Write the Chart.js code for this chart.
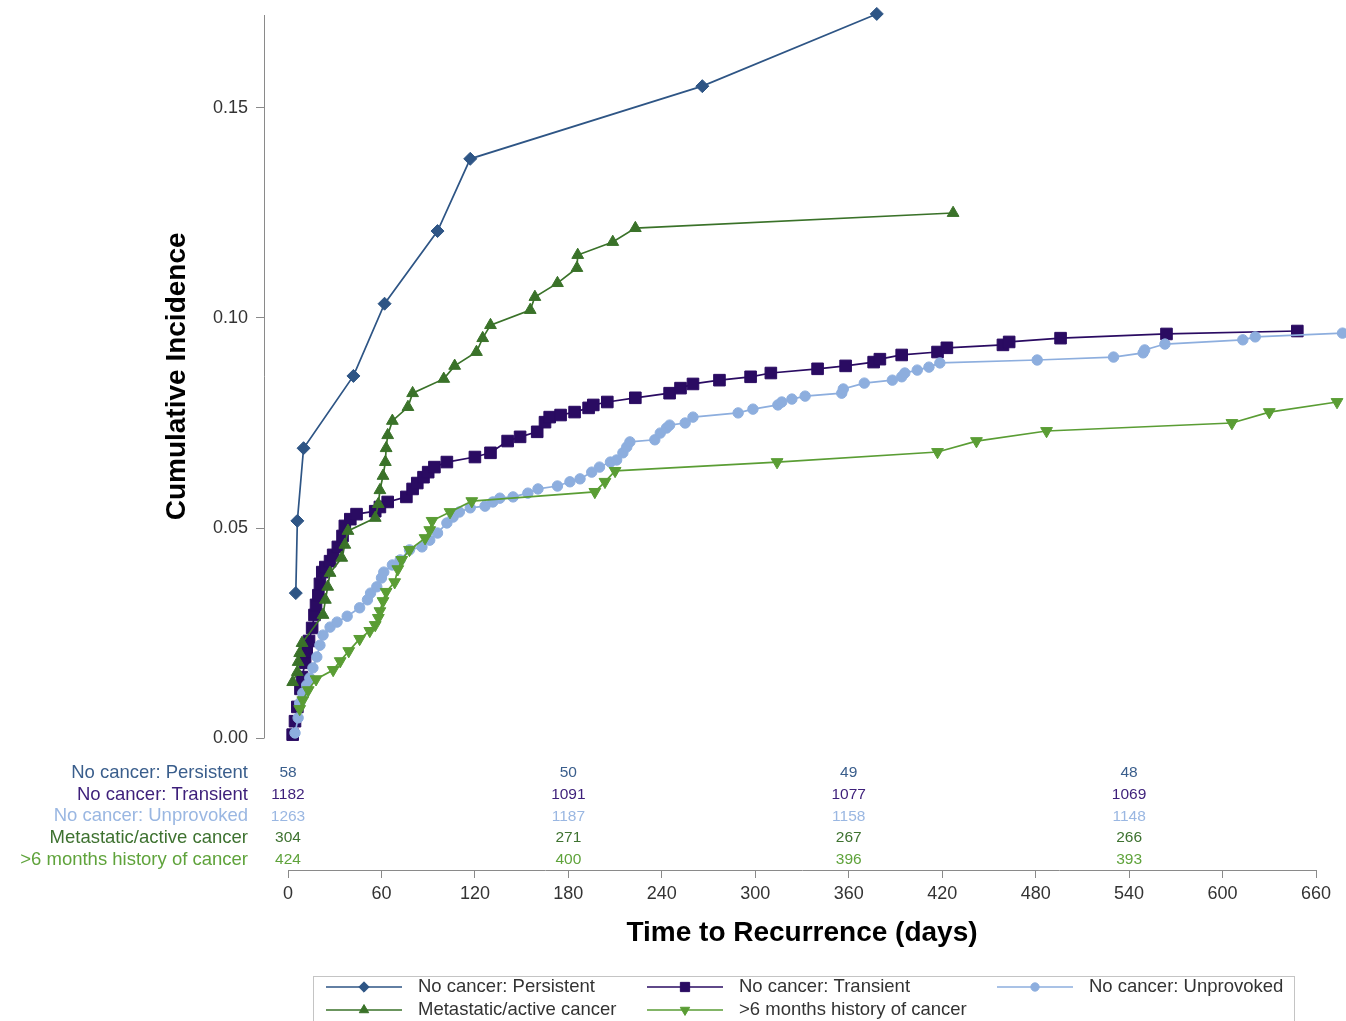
<!DOCTYPE html>
<html>
<head>
<meta charset="utf-8">
<script src="https://cdn.jsdelivr.net/npm/chart.js@4.4.1/dist/chart.umd.min.js"></script>
<style>
html,body{margin:0;padding:0;background:#ffffff;}
#wrap{width:1346px;height:1021px;position:relative;overflow:hidden;}
canvas{display:block;}
</style>
</head>
<body>
<div id="wrap"><canvas id="c" width="1346" height="1021"></canvas></div>
<script>
// ---------------- DATA ----------------
const seriesNames = ["No cancer: Persistent", "No cancer: Transient", "No cancer: Unprovoked", "Metastatic/active cancer", ">6 months history of cancer"];

const persistentDays = [5, 6, 10, 42, 62, 96, 117, 266, 378];
const persistentCI   = [0.0345, 0.0517, 0.0690, 0.0862, 0.1034, 0.1207, 0.1379, 0.1552, 0.1724];

const transientDays = [3, 4.5, 6, 8, 9, 11, 12, 13.5, 15.5, 17, 18, 19.5, 20.5, 22, 24, 27, 29, 32, 35, 36.5, 40, 44, 56, 59, 64, 76, 80, 83, 87, 90, 94, 102, 120, 130, 141, 149, 160, 165, 168, 175, 184, 193, 196, 205, 223, 245, 252, 260, 277, 297, 310, 340, 358, 376, 380, 394, 417, 423, 459, 463, 496, 564, 648];
const transientCI   = [0.0008, 0.0040, 0.0074, 0.0117, 0.0145, 0.0179, 0.0205, 0.0231, 0.0262, 0.0293, 0.0317, 0.0340, 0.0367, 0.0395, 0.0407, 0.0421, 0.0436, 0.0455, 0.0481, 0.0505, 0.0521, 0.0533, 0.0540, 0.0550, 0.0562, 0.0574, 0.0593, 0.0607, 0.0621, 0.0633, 0.0645, 0.0657, 0.0669, 0.0679, 0.0707, 0.0717, 0.0729, 0.0752, 0.0764, 0.0769, 0.0776, 0.0786, 0.0793, 0.0800, 0.0810, 0.0821, 0.0833, 0.0843, 0.0852, 0.0860, 0.0869, 0.0879, 0.0886, 0.0895, 0.0902, 0.0912, 0.0919, 0.0929, 0.0936, 0.0943, 0.0952, 0.0962, 0.0969];

const unprovokedDays = [4.5, 6.5, 7.5, 9.5, 12, 14, 16, 18.5, 20.5, 22.5, 27, 31.5, 38, 46, 51, 53, 57, 60, 61.5, 67, 72, 78, 86, 91, 96, 102, 106, 110, 117, 126.5, 131.5, 136, 144.5, 154, 160.5, 173, 181, 187.5, 195, 200, 207, 211, 215, 217.5, 219.5, 235.5, 239, 243, 245, 255, 260, 289, 298.5, 314.5, 317, 323.5, 332, 355.5, 356.5, 370, 388, 394, 396, 404, 411.5, 418.5, 481, 530, 549, 550, 563, 613, 621, 677];
const unprovokedCI   = [0.0012, 0.0048, 0.0083, 0.0107, 0.0126, 0.0143, 0.0167, 0.0193, 0.0221, 0.0245, 0.0264, 0.0276, 0.0290, 0.0310, 0.0329, 0.0345, 0.0360, 0.0381, 0.0395, 0.0412, 0.0424, 0.0448, 0.0455, 0.0471, 0.0488, 0.0512, 0.0526, 0.0538, 0.0548, 0.0552, 0.0562, 0.0571, 0.0574, 0.0583, 0.0593, 0.0600, 0.0610, 0.0617, 0.0633, 0.0645, 0.0657, 0.0662, 0.0679, 0.0693, 0.0705, 0.0710, 0.0726, 0.0738, 0.0745, 0.0750, 0.0764, 0.0774, 0.0783, 0.0793, 0.0800, 0.0807, 0.0814, 0.0821, 0.0831, 0.0845, 0.0852, 0.0860, 0.0869, 0.0876, 0.0883, 0.0893, 0.0900, 0.0907, 0.0917, 0.0924, 0.0938, 0.0948, 0.0955, 0.0964];

const metastaticDays = [3, 6, 6.5, 7.5, 9, 22.5, 24, 25.5, 27, 34.5, 36.5, 38.5, 56, 58, 59, 61, 62.5, 63, 64, 67, 77, 80, 100, 107, 121, 125, 130, 155.5, 158.5, 173, 185.5, 186, 208.5, 223, 427];
const metastaticCI   = [0.0133, 0.0157, 0.0181, 0.0202, 0.0226, 0.0293, 0.0329, 0.0360, 0.0393, 0.0429, 0.0460, 0.0493, 0.0524, 0.0557, 0.0590, 0.0624, 0.0657, 0.0690, 0.0721, 0.0755, 0.0788, 0.0821, 0.0855, 0.0886, 0.0919, 0.0952, 0.0983, 0.1019, 0.1050, 0.1083, 0.1119, 0.1150, 0.1181, 0.1214, 0.1250];

const historyDays = [7.5, 9.5, 13, 18, 29, 33.5, 39, 46, 52.5, 56, 58, 59, 61, 63, 68.5, 70.5, 73, 78, 88, 91, 92.5, 104, 118, 197, 203.5, 210, 314, 417, 442, 487, 606, 630, 673.5];
const historyCI   = [0.0069, 0.0090, 0.0114, 0.0140, 0.0162, 0.0183, 0.0207, 0.0236, 0.0255, 0.0269, 0.0286, 0.0302, 0.0326, 0.0348, 0.0371, 0.0402, 0.0424, 0.0448, 0.0476, 0.0495, 0.0517, 0.0538, 0.0564, 0.0586, 0.0610, 0.0636, 0.0657, 0.0681, 0.0707, 0.0731, 0.0750, 0.0776, 0.0800];

// Number at risk
const riskTimes = [0, 180, 360, 540];
const riskPersistent = [58, 50, 49, 48];
const riskTransient  = [1182, 1091, 1077, 1069];
const riskUnprovoked = [1263, 1187, 1158, 1148];
const riskMetastatic = [304, 271, 267, 266];
const riskHistory    = [424, 400, 396, 393];

// Tick labels
const xTicks = [0, 60, 120, 180, 240, 300, 360, 420, 480, 540, 600, 660];
const yTicks = [0, 0.05, 0.10, 0.15];
const yAxisTop = 0.1722;

const xTitle = "Time to Recurrence (days)";
const yTitle = "Cumulative Incidence";

// ---------------- STYLE ----------------
const FONT = "'Liberation Sans', Arial, Helvetica, sans-serif";
const colors = ["#2E5585", "#2A0B62", "#8DAEDE", "#3A7229", "#5A9D34"];
const tableColors = ["#3A5E8C", "#3D1F7A", "#9AB7E2", "#3E7230", "#5FA33B"];
const styles = [
  {pointStyle: 'rectRot', rotation: 0, radius: 6.5},
  {pointStyle: 'rect', rotation: 0, radius: 8.2},
  {pointStyle: 'circle', rotation: 0, radius: 5.2},
  {pointStyle: 'triangle', rotation: 0, radius: 6.8},
  {pointStyle: 'triangle', rotation: 180, radius: 6.8}
];
const AXIS_COLOR = "#8a8a8a";
const TEXT_COLOR = "#333333";

const allDays = [persistentDays, transientDays, unprovokedDays, metastaticDays, historyDays];
const allCI = [persistentCI, transientCI, unprovokedCI, metastaticCI, historyCI];
const allRisk = [riskPersistent, riskTransient, riskUnprovoked, riskMetastatic, riskHistory];

const datasets = seriesNames.map((name, i) => ({
  label: name,
  data: allDays[i].map((d, k) => ({x: d, y: allCI[i][k]})),
  borderColor: colors[i],
  backgroundColor: colors[i],
  borderWidth: 1.7,
  pointStyle: styles[i].pointStyle,
  pointRotation: styles[i].rotation,
  pointRadius: styles[i].radius,
  pointBorderWidth: 1,
  pointBorderColor: colors[i],
  pointBackgroundColor: colors[i],
  tension: 0,
  clip: false,
  order: seriesNames.length - i
}));

// frame geometry (layout only): where value 0 / day 0 sit, and the scale factors
const PLOT_LEFT = 264, PLOT_TOP = 14, PLOT_BOTTOM = 870, CANVAS_W = 1346, CANVAS_H = 1021;
const Y_ZERO_PX = 738, Y_PER_UNIT = 4200;
const X_ZERO_PX = 288, X_PER_DAY = 1.5576;

function drawMarker(ctx, st, color, x, y, scale) {
  ctx.fillStyle = color; ctx.strokeStyle = color; ctx.lineWidth = 1;
  if (Chart.helpers && Chart.helpers.drawPoint) {
    Chart.helpers.drawPoint(ctx, {pointStyle: st.pointStyle, rotation: st.rotation, radius: st.radius * scale, borderWidth: 1}, x, y);
  }
}

const decor = {
  id: 'decor',
  afterDraw(chart) {
    const {ctx, chartArea: a, scales: {x, y}} = chart;
    ctx.save();
    ctx.strokeStyle = AXIS_COLOR; ctx.lineWidth = 1;
    const ax = Math.round(a.left) + 0.5;
    ctx.beginPath();
    ctx.moveTo(ax, Math.round(y.getPixelForValue(0)) + 0.5);
    ctx.lineTo(ax, Math.round(y.getPixelForValue(yAxisTop)));
    ctx.stroke();
    const ay = Math.round(a.bottom) + 0.5;
    ctx.beginPath();
    ctx.moveTo(Math.round(x.getPixelForValue(xTicks[0])) + 0.5, ay);
    ctx.lineTo(Math.round(x.getPixelForValue(xTicks[xTicks.length - 1])) + 0.5, ay);
    ctx.stroke();

    ctx.fillStyle = "#000000";
    ctx.font = "bold 28px " + FONT;
    ctx.textAlign = 'center'; ctx.textBaseline = 'middle';
    ctx.save();
    ctx.translate(177, (y.getPixelForValue(0) + y.getPixelForValue(yAxisTop)) / 2);
    ctx.rotate(-Math.PI / 2);
    ctx.fillText(yTitle, 0, 0);
    ctx.restore();
    const xc = (x.getPixelForValue(xTicks[0]) + x.getPixelForValue(xTicks[xTicks.length - 1])) / 2;
    ctx.fillText(xTitle, xc, 933);

    const row0 = y.getPixelForValue(0) + 35;
    const rowStep = 21.7;
    for (let i = 0; i < seriesNames.length; i++) {
      const ry = row0 + i * rowStep;
      ctx.fillStyle = tableColors[i];
      ctx.font = "18.5px " + FONT;
      ctx.textAlign = 'right'; ctx.textBaseline = 'middle';
      ctx.fillText(seriesNames[i], a.left - 16, ry);
      ctx.font = "15.5px " + FONT;
      ctx.textAlign = 'center';
      for (let j = 0; j < riskTimes.length; j++) {
        ctx.fillText(String(allRisk[i][j]), x.getPixelForValue(riskTimes[j]), ry);
      }
    }

    ctx.strokeStyle = "#c4c4c4"; ctx.lineWidth = 1;
    ctx.strokeRect(313.5, 976.5, 981, 70);
    const legCols = [326, 647, 997];
    const legRows = [987, 1010];
    for (let i = 0; i < seriesNames.length; i++) {
      const cx = legCols[i % 3], cy = legRows[Math.floor(i / 3)];
      ctx.strokeStyle = colors[i]; ctx.lineWidth = 1.6;
      ctx.beginPath(); ctx.moveTo(cx, cy); ctx.lineTo(cx + 76, cy); ctx.stroke();
      drawMarker(ctx, styles[i], colors[i], cx + 38, cy, 0.8);
      ctx.fillStyle = TEXT_COLOR;
      ctx.font = "18.5px " + FONT;
      ctx.textAlign = 'left'; ctx.textBaseline = 'middle';
      ctx.fillText(seriesNames[i], cx + 92, cy);
    }
    ctx.restore();
  }
};

const chart = new Chart(document.getElementById('c'), {
  type: 'line',
  data: {datasets},
  options: {
    responsive: false,
    animation: false,
    devicePixelRatio: 1,
    layout: {padding: {top: PLOT_TOP, left: 0, right: 0, bottom: 0}},
    plugins: {legend: {display: false}, tooltip: {enabled: false}, title: {display: false}},
    events: [],
    scales: {
      x: {
        type: 'linear',
        min: -15, max: 679,
        afterBuildTicks: s => { s.ticks = xTicks.map(v => ({value: v})); },
        afterFit: s => { s.height = CANVAS_H - PLOT_BOTTOM; },
        border: {display: false},
        grid: {drawOnChartArea: false, tickLength: 8, color: AXIS_COLOR, lineWidth: 1},
        ticks: {padding: 5, autoSkip: false, maxRotation: 0, color: TEXT_COLOR, font: {family: FONT, size: 18}, callback: v => String(v)}
      },
      y: {
        type: 'linear',
        min: -0.031, max: 0.172,
        afterBuildTicks: s => { s.ticks = yTicks.map(v => ({value: v})); },
        afterFit: s => { s.width = PLOT_LEFT; },
        border: {display: false},
        grid: {drawOnChartArea: false, tickLength: 8, color: AXIS_COLOR, lineWidth: 1},
        ticks: {padding: 8, color: TEXT_COLOR, font: {family: FONT, size: 18}, callback: v => Number(v).toFixed(2)}
      }
    }
  },
  plugins: [decor]
});

// match the reference's scale factors to the actual plot frame
for (let pass = 0; pass < 2; pass++) {
  const a = chart.chartArea;
  chart.options.scales.x.min = (a.left - X_ZERO_PX) / X_PER_DAY;
  chart.options.scales.x.max = (a.right - X_ZERO_PX) / X_PER_DAY;
  chart.options.scales.y.max = (Y_ZERO_PX - a.top) / Y_PER_UNIT;
  chart.options.scales.y.min = (Y_ZERO_PX - a.bottom) / Y_PER_UNIT;
  chart.update('none');
}
</script>
</body>
</html>
